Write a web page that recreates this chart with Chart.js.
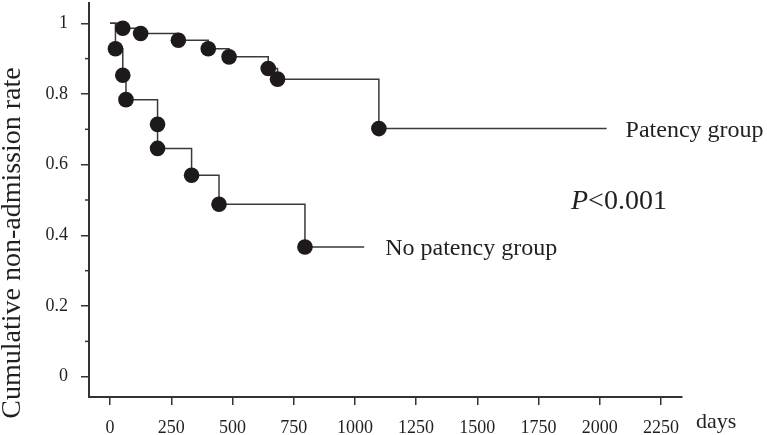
<!DOCTYPE html>
<html>
<head>
<meta charset="utf-8">
<script src="https://cdn.jsdelivr.net/npm/chart.js@4"></script>
<style>
  body { margin: 0; background: #fff; }
  #wrap { width: 767px; height: 435px; }
</style>
</head>
<body>
<div id="wrap"><canvas id="myChart" width="767" height="435"></canvas></div>
<script>
const xTicks = [0, 250, 500, 750, 1000, 1250, 1500, 1750, 2000, 2250];
const yTicks = [0, 0.2, 0.4, 0.6, 0.8, 1];
const yMinorTicks = [0.1, 0.3, 0.5, 0.7, 0.9];

const patencyDays = [0, 52, 125, 279, 401, 486, 646, 684, 1098, 2028];
const patencyRate = [1, 0.986, 0.971, 0.952, 0.928, 0.905, 0.872, 0.842, 0.702, 0.702];
const noPatencyDays = [0, 22, 52, 65, 194, 194, 333, 445, 796, 1038];
const noPatencyRate = [1, 0.928, 0.853, 0.784, 0.714, 0.646, 0.570, 0.488, 0.367, 0.367];

const axisColor = "#333333";
const lineColor = "#3a3a3a";
const dotColor = "#1e1a1a";
const textColor = "#231f20";
const serif = '"Liberation Serif", "Times New Roman", serif';

// first point is the start, last point is the censored end: no dot
function radii(n) {
    return Array.from({ length: n }, (_, i) => (i === 0 || i === n - 1) ? 0 : 7.8);
}

const labelsPlugin = {
    id: "kmLabels",
    afterDraw(chart) {
        const ctx = chart.ctx;
        const x = chart.scales.x;
        const y = chart.scales.y;
        ctx.save();

        // minor ticks on the y axis
        ctx.strokeStyle = axisColor;
        ctx.lineWidth = 1.5;
        yMinorTicks.forEach(v => {
            const py = y.getPixelForValue(v);
            ctx.beginPath();
            ctx.moveTo(x.left - 4, py);
            ctx.lineTo(x.left, py);
            ctx.stroke();
        });

        ctx.fillStyle = textColor;
        ctx.textBaseline = "alphabetic";
        ctx.textAlign = "left";

        // group names next to the end of each curve
        ctx.font = "24px " + serif;
        const pEnd = x.getPixelForValue(patencyDays[patencyDays.length - 1]);
        ctx.fillText("Patency group", pEnd + 19, y.getPixelForValue(patencyRate[patencyRate.length - 1]) + 8);
        const nEnd = x.getPixelForValue(noPatencyDays[noPatencyDays.length - 1]);
        ctx.fillText("No patency group", nEnd + 21, y.getPixelForValue(noPatencyRate[noPatencyRate.length - 1]) + 8);

        // p value
        ctx.font = "italic 28px " + serif;
        ctx.fillText("P", 571, 209);
        const pw = ctx.measureText("P").width;
        ctx.font = "28px " + serif;
        ctx.fillText("<0.001", 571 + pw, 209);

        // x unit
        ctx.font = "22px " + serif;
        ctx.fillText("days", 696, 428);

        // y title
        ctx.font = "28px " + serif;
        ctx.textAlign = "center";
        ctx.textBaseline = "middle";
        ctx.translate(13, 243);
        ctx.rotate(-Math.PI / 2);
        ctx.fillText("Cumulative non-admission rate", 0, 0);

        ctx.restore();
    }
};

new Chart("myChart", {
    type: "scatter",
    data: {
        datasets: [{
            label: "Patency group",
            data: patencyDays.map((d, i) => ({ x: d, y: patencyRate[i] })),
            showLine: true,
            stepped: "before",
            borderColor: lineColor,
            borderWidth: 1.5,
            pointRadius: radii(patencyDays.length),
            pointBackgroundColor: dotColor,
            pointBorderWidth: 0,
            clip: false
        }, {
            label: "No patency group",
            data: noPatencyDays.map((d, i) => ({ x: d, y: noPatencyRate[i] })),
            showLine: true,
            stepped: "before",
            borderColor: lineColor,
            borderWidth: 1.5,
            pointRadius: radii(noPatencyDays.length),
            pointBackgroundColor: dotColor,
            pointBorderWidth: 0,
            clip: false
        }]
    },
    options: {
        responsive: false,
        animation: false,
        devicePixelRatio: 1,
        layout: { padding: { top: 3, right: 85, left: 0, bottom: 0 } },
        plugins: {
            legend: { display: false },
            tooltip: { enabled: false }
        },
        scales: {
            x: {
                type: "linear",
                min: -86,
                max: 2336,
                afterBuildTicks: (s) => { s.ticks = xTicks.map(v => ({ value: v })); },
                afterFit: (s) => {
                    s.height = 38;
                    s.paddingLeft = 0;
                    s.paddingRight = 0;
                },
                grid: { drawOnChartArea: false, tickLength: 8, color: axisColor, lineWidth: 1.5 },
                border: { display: true, color: axisColor, width: 2 },
                ticks: {
                    autoSkip: false,
                    maxRotation: 0,
                    padding: 12,
                    color: textColor,
                    font: { family: serif, size: 18 },
                    callback: (v) => String(v)
                }
            },
            y: {
                type: "linear",
                min: -0.0574,
                max: 1.0574,
                afterBuildTicks: (s) => { s.ticks = yTicks.map(v => ({ value: v })); },
                afterFit: (s) => {
                    s.width = 89;
                    s.paddingTop = 0;
                    s.paddingBottom = 0;
                },
                grid: { drawOnChartArea: false, tickLength: 8, color: axisColor, lineWidth: 1.5 },
                border: { display: true, color: axisColor, width: 2 },
                ticks: {
                    padding: 13,
                    color: textColor,
                    font: { family: serif, size: 18 },
                    callback: (v) => (v === 0 || v === 1) ? String(v) : v.toFixed(1)
                }
            }
        }
    },
    plugins: [labelsPlugin]
});
</script>
</body>
</html>
